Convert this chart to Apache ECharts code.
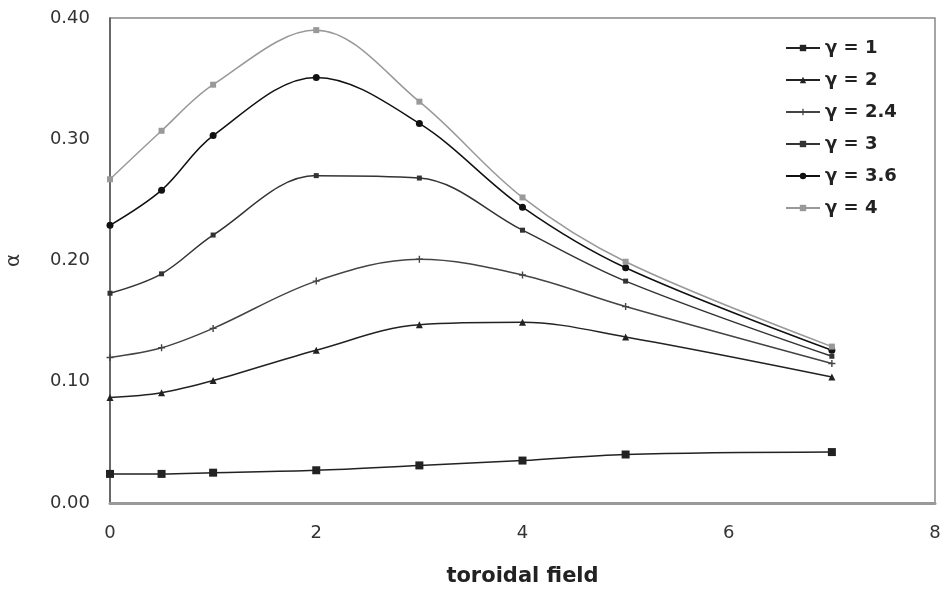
<!DOCTYPE html>
<html lang="en">
<head>
    <meta charset="UTF-8">
    <title>alpha vs toroidal field</title>
    <script src="https://cdn.jsdelivr.net/npm/echarts@6/dist/echarts.min.js"></script>
    <style>
        html, body { margin: 0; padding: 0; background: #fff; }
        #chart { width: 940px; height: 591px; }
    </style>
</head>
<body>
<div id="chart"></div>
<script>
    // toroidal field values (x)
    var field = [0, 0.5, 1, 2, 3, 4, 5, 7];

    // alpha for each gamma
    var g1  = [0.024, 0.024, 0.025, 0.027, 0.031, 0.035, 0.040, 0.042];
    var g2  = [0.087, 0.091, 0.101, 0.126, 0.147, 0.149, 0.137, 0.104];
    var g24 = [0.120, 0.128, 0.144, 0.183, 0.201, 0.188, 0.162, 0.115];
    var g3  = [0.173, 0.189, 0.221, 0.270, 0.268, 0.225, 0.183, 0.121];
    var g36 = [0.229, 0.258, 0.303, 0.351, 0.313, 0.244, 0.194, 0.126];
    var g4  = [0.267, 0.307, 0.345, 0.390, 0.331, 0.252, 0.199, 0.129];

    var names = ['γ = 1', 'γ = 2', 'γ = 2.4', 'γ = 3', 'γ = 3.6', 'γ = 4'];

    function pairs(ys) {
        var out = [];
        for (var i = 0; i < field.length; i++) {
            out.push([field[i], ys[i]]);
        }
        return out;
    }

    function line(name, ys, symbol, size, color) {
        return {
            name: name,
            type: 'line',
            data: pairs(ys),
            smooth: 0.35,
            symbol: symbol,
            symbolSize: size,
            showSymbol: true,
            lineStyle: { color: color, width: 1.5 },
            itemStyle: { color: color },
            emphasis: { disabled: true }
        };
    }

    var crossPath = 'path://M0,4H10V6H0Z M4,0H6V10H4Z';

    var chart = echarts.init(document.getElementById('chart'));
    chart.setOption({
        animation: false,
        textStyle: { fontFamily: 'DejaVu Sans, sans-serif' },
        grid: {
            left: 110, right: 5, top: 18, bottom: 88,
            outerBoundsMode: 'none',
            show: true, borderColor: '#888', borderWidth: 1.5
        },
        legend: {
            left: 780, top: 32,
            orient: 'vertical',
            itemGap: 10,
            itemWidth: 34,
            itemHeight: 8,
            textStyle: {
                fontFamily: 'DejaVu Sans', fontSize: 18, fontWeight: 'bold',
                color: '#222', lineHeight: 22
            },
            data: names
        },
        xAxis: {
            type: 'value',
            min: 0, max: 8, interval: 2,
            name: 'toroidal field',
            nameLocation: 'middle',
            nameGap: 63,
            nameTextStyle: { fontSize: 21, fontWeight: 'bold', color: '#222' },
            axisLine: { lineStyle: { color: '#999', width: 3 } },
            axisTick: { show: false },
            splitLine: { show: false },
            axisLabel: { fontSize: 18, color: '#333', margin: 21 }
        },
        yAxis: {
            type: 'value',
            min: 0, max: 0.4, interval: 0.1,
            name: 'α',
            nameLocation: 'middle',
            nameGap: 86,
            nameRotate: 90,
            nameTextStyle: { fontSize: 20, color: '#333' },
            axisLine: { show: true, lineStyle: { color: '#555', width: 1.5 } },
            axisTick: { show: false },
            splitLine: { show: false },
            axisLabel: {
                fontSize: 18, color: '#333', margin: 20,
                formatter: function (v) { return v.toFixed(2); }
            }
        },
        series: [
            line(names[0], g1, 'rect', 8, '#222'),
            line(names[1], g2, 'triangle', 7, '#222'),
            line(names[2], g24, crossPath, 7, '#444'),
            line(names[3], g3, 'rect', 5, '#333'),
            line(names[4], g36, 'circle', 7, '#111'),
            line(names[5], g4, 'rect', 6, '#999')
        ]
    });
</script>
</body>
</html>
